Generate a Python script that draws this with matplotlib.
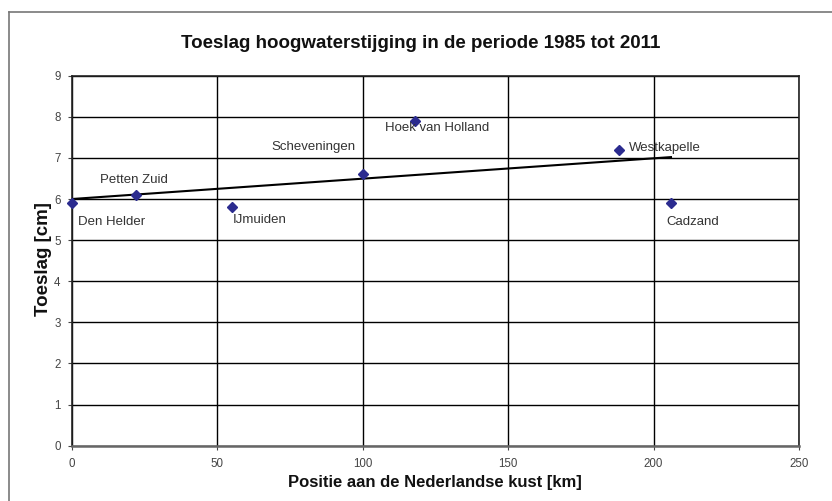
import matplotlib
matplotlib.use("Agg")
import matplotlib.pyplot as plt
from matplotlib.lines import Line2D

plt.rcParams['font.family'] = ['Liberation Sans', 'DejaVu Sans']

# Data
stations = ["Den Helder", "Petten Zuid", "IJmuiden", "Scheveningen",
            "Hoek van Holland", "Westkapelle", "Cadzand"]
positie_km = [0, 22, 55, 100, 118, 188, 206]
toeslag_cm = [5.9, 6.1, 5.8, 6.6, 7.9, 7.2, 5.9]
trend_x = [0, 206]
trend_y = [6.0, 7.02]
x_ticks = [0, 50, 100, 150, 200, 250]
y_ticks = [0, 1, 2, 3, 4, 5, 6, 7, 8, 9]

# label offsets in pixels (dx, dy)
label_offsets = [(6.5, -19), (-36, 15), (1.5, -13), (-91, 27),
                 (-30, -7), (10.5, 2), (-4.5, -19)]

fig = plt.figure(figsize=(8.32, 5.01), dpi=100)
ax = fig.add_axes([0.0862, 0.1104, 0.9603 - 0.0862, 0.8489 - 0.1104])

ax.set_xlim(0, 250)
ax.set_ylim(0, 9)
ax.set_xticks(x_ticks)
ax.set_yticks(y_ticks)
ax.grid(True, color='black', linewidth=1.0, zorder=1)
ax.set_axisbelow(True)

ax.plot(trend_x, trend_y, color='black', linewidth=1.5, zorder=3)
ax.plot(positie_km, toeslag_cm, linestyle='none', marker='D', markersize=5,
        color='#2b2b8f', zorder=4, clip_on=False)

for name, x, y, (dx, dy) in zip(stations, positie_km, toeslag_cm, label_offsets):
    ax.annotate(name, (x, y), xytext=(dx, dy), textcoords='offset pixels',
                ha='left', va='center', fontsize=9.5, color='#333333', zorder=5)

ax.tick_params(axis='both', labelsize=8.3, labelcolor='#444444', color='#444444',
               length=3, width=0.8)
ax.tick_params(axis='x', pad=6)
ax.tick_params(axis='y', pad=5)

for s in ['top', 'right', 'left']:
    ax.spines[s].set_color('#222222')
    ax.spines[s].set_linewidth(1.2)
ax.spines['bottom'].set_color('#666666')
ax.spines['bottom'].set_linewidth(1.8)

fig.text(0.506, 0.914, "Toeslag hoogwaterstijging in de periode 1985 tot 2011",
         ha='center', va='center', fontsize=13.5, fontweight='bold', color='#111111')
fig.text(0.0517, 0.483, "Toeslag [cm]", ha='center', va='center', rotation=90,
         fontsize=13.5, fontweight='bold', color='#111111')
fig.text(0.523, 0.036, "Positie aan de Nederlandse kust [km]", ha='center', va='center',
         fontsize=12, fontweight='bold', color='#111111')

# outer chart frame (left and top edges visible)
fx, fy = 8.7 / 832, 1 - 11.7 / 501
fig.add_artist(Line2D([fx, fx], [0, fy], transform=fig.transFigure,
                      color='#777777', linewidth=1.2))
fig.add_artist(Line2D([fx, 1], [fy, fy], transform=fig.transFigure,
                      color='#777777', linewidth=1.2))

fig.savefig("out.png", dpi=100)
